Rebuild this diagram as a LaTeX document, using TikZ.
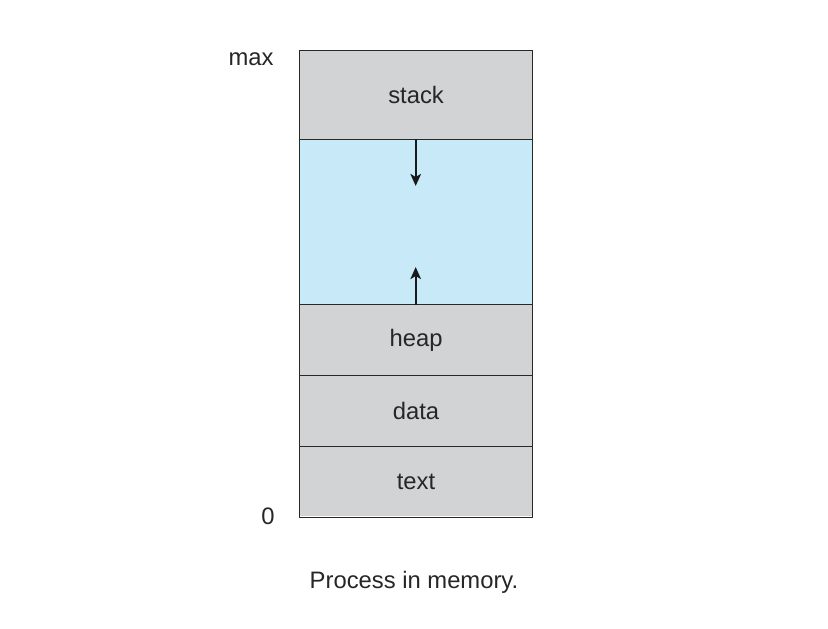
\documentclass[tikz,border=0pt]{standalone}
\usepackage{fontspec}
\setmainfont{Liberation Sans}
\usetikzlibrary{arrows.meta}
\definecolor{segGray}{RGB}{209,211,212}
\definecolor{segBlue}{RGB}{199,233,248}
\definecolor{lineCol}{RGB}{40,40,40}
\begin{document}
\begin{tikzpicture}[x=1pt,y=-1pt,
  seg/.style={draw=lineCol,line width=1.1pt},
  lbl/.style={font=\fontsize{23.8}{28}\selectfont,text=black!85,inner sep=0pt},
  growarrow/.style={draw=black!90,line width=2.3pt,-{Stealth[length=12pt,width=10.5pt,inset=3pt]}}]
\useasboundingbox (0,0) rectangle (828,629);
\fill[segGray] (298.7,50) rectangle (532.3,139);
\fill[segBlue] (298.7,139) rectangle (532.3,304);
\fill[segGray] (298.7,304) rectangle (532.3,516);
\node[seg,minimum width=233.6pt,minimum height=89pt,inner sep=0pt,anchor=north west] (stack) at (298.7,50) {};
\node[seg,minimum width=233.6pt,minimum height=165pt,inner sep=0pt,anchor=north west] (free) at (298.7,139) {};
\node[seg,minimum width=233.6pt,minimum height=71pt,inner sep=0pt,anchor=north west] (heap) at (298.7,304) {};
\node[seg,minimum width=233.6pt,minimum height=71pt,inner sep=0pt,anchor=north west] (data) at (298.7,375) {};
\node[seg,minimum width=233.6pt,minimum height=71pt,inner sep=0pt,anchor=north west] (text) at (298.7,446) {};
\node[lbl] at (stack.center) {stack};
\node[lbl] at (heap.center) {heap};
\node[lbl] at (data.center) {data};
\node[lbl] at (text.center) {text};
\coordinate (dtip) at (415.7,186);
\coordinate (utip) at (415.7,267);
\draw[growarrow] (free.north -| dtip) -- (dtip);
\draw[growarrow] (free.south -| utip) -- (utip);
\node[lbl,anchor=base] (max) at (251,65) {max};
\node[lbl,anchor=base] (zero) at (268,524) {0};
\node[lbl,anchor=base] (cap) at (414,588) {Process in memory.};
\end{tikzpicture}
\end{document}
